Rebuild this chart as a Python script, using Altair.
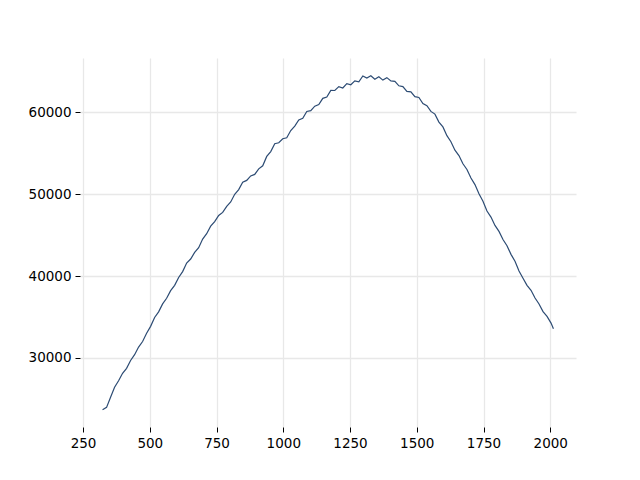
import altair as alt
import pandas as pd

x_vals = [323, 338, 353, 368, 383, 398, 413, 428, 443, 458, 473, 488, 503, 518, 533, 548,
          563, 578, 593, 608, 623, 638, 653, 668, 683, 698, 713, 728, 743, 758, 773, 788,
          803, 818, 833, 848, 863, 878, 893, 908, 923, 938, 953, 968, 983, 998, 1013, 1028,
          1043, 1058, 1073, 1088, 1103, 1118, 1133, 1148, 1163, 1178, 1193, 1208, 1223, 1238,
          1253, 1268, 1283, 1298, 1313, 1328, 1343, 1358, 1373, 1388, 1403, 1418, 1433, 1448,
          1463, 1478, 1493, 1508, 1523, 1538, 1553, 1568, 1583, 1598, 1613, 1628, 1643, 1658,
          1673, 1688, 1703, 1718, 1733, 1748, 1763, 1778, 1793, 1808, 1823, 1838, 1853, 1868,
          1883, 1898, 1913, 1928, 1943, 1958, 1973, 1988, 2003, 2012]

y_vals = [23650, 23950, 25180, 26420, 27210, 28110, 28720, 29680, 30390, 31320, 32000, 33010,
          33850, 34930, 35620, 36600, 37280, 38210, 38860, 39820, 40540, 41590, 42080, 42890,
          43460, 44520, 45180, 46090, 46650, 47400, 47780, 48520, 49050, 49990, 50560, 51460,
          51690, 52240, 52420, 53100, 53480, 54620, 55210, 56170, 56290, 56780, 56900, 57780,
          58330, 59080, 59290, 60120, 60210, 60760, 60950, 61720, 61880, 62700, 62680, 63150,
          62980, 63520, 63380, 63860, 63750, 64450, 64200, 64480, 64050, 64350, 63950, 64250,
          63850, 63800, 63250, 63150, 62560, 62520, 61920, 61820, 61080, 60820, 60120, 59790,
          58820, 58230, 57160, 56420, 55380, 54720, 53720, 53030, 51980, 51180, 50060, 49150,
          47950, 47210, 46190, 45460, 44470, 43700, 42650, 41800, 40620, 39740, 38860, 38260,
          37310, 36590, 35650, 35060, 34250, 33560]

df = pd.DataFrame({"x": x_vals, "y": y_vals})

x_ticks = [250, 500, 750, 1000, 1250, 1500, 1750, 2000]
y_ticks = [30000, 40000, 50000, 60000]

axis_common = dict(
    domain=False,
    grid=True,
    gridColor="#e8e8e8",
    gridWidth=1.3,
    ticks=True,
    tickColor="black",
    tickSize=5,
    tickWidth=1,
    labelColor="black",
    labelFont="DejaVu Sans",
    labelFontSize=13.5,
    labelPadding=4,
    format="d",
    title=None,
)

chart = alt.Chart(df).mark_line(color="#2c4b73", strokeWidth=1.2).encode(
    x=alt.X("x:Q",
            scale=alt.Scale(domain=[238.5, 2096.5], nice=False, zero=False),
            axis=alt.Axis(values=x_ticks, **axis_common)),
    y=alt.Y("y:Q",
            scale=alt.Scale(domain=[21550, 66650], nice=False, zero=False),
            axis=alt.Axis(values=y_ticks, **axis_common)),
).properties(
    width=496,
    height=369,
    autosize=alt.AutoSizeParams(type="none"),
    padding={"left": 72, "top": 50, "right": 56, "bottom": 45},
).configure_view(stroke=None)

chart.save("out.html", embed_options={"renderer": "svg", "actions": False})
